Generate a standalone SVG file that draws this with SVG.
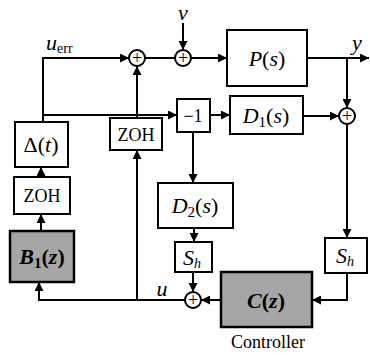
<svg xmlns="http://www.w3.org/2000/svg" width="370" height="355" viewBox="0 0 370 355">
<style>
.box{fill:#fff;stroke:#000;stroke-width:2}
.shade{fill:#a6a6a6;stroke:#000;stroke-width:2.5}
.sum{fill:#fff;stroke:#000;stroke-width:2}
.ln{fill:none;stroke:#000;stroke-width:2}
.m{font-family:'Liberation Serif','DejaVu Serif','Times New Roman',serif;font-style:italic;font-size:22px;fill:#000}
.r{font-family:'Liberation Serif','DejaVu Serif','Times New Roman',serif;font-size:18px;fill:#000}
.up{font-style:normal}
</style>
<defs>
<marker id="a" viewBox="0 0 10 10" refX="10" refY="5" markerWidth="5" markerHeight="4.5" orient="auto" markerUnits="strokeWidth">
<path d="M0,0 L10,5 L0,10 z" fill="#000"/>
</marker>
</defs>
<g id="connectors">
<path class="ln" d="M183,23 V50" marker-end="url(#a)"/>
<path class="ln" d="M43,122 V58 H129" marker-end="url(#a)"/>
<path class="ln" d="M145,58 H175"/>
<path class="ln" d="M191,58 H227" marker-end="url(#a)"/>
<path class="ln" d="M307,58 H369" marker-end="url(#a)"/>
<path class="ln" d="M347,58 V108" marker-end="url(#a)"/>
<path class="ln" d="M43,115 H177" marker-end="url(#a)"/>
<path class="ln" d="M210,115 H230" marker-end="url(#a)"/>
<path class="ln" d="M303,116 H339" marker-end="url(#a)"/>
<path class="ln" d="M347,124 V238" marker-end="url(#a)"/>
<path class="ln" d="M347,273 V300 H312" marker-end="url(#a)"/>
<path class="ln" d="M221,300 H201" marker-end="url(#a)"/>
<path class="ln" d="M193,132 V183" marker-end="url(#a)"/>
<path class="ln" d="M194,228 V242" marker-end="url(#a)"/>
<path class="ln" d="M193,272 V292" marker-end="url(#a)"/>
<path class="ln" d="M185,300 H39 V282" marker-end="url(#a)"/>
<path class="ln" d="M137,300 V150" marker-end="url(#a)"/>
<path class="ln" d="M137,118 V66" marker-end="url(#a)"/>
<path class="ln" d="M41,231 V214" marker-end="url(#a)"/>
<path class="ln" d="M41,177 V167" marker-end="url(#a)"/>
</g>
<g id="sum1"><circle class="sum" cx="137" cy="58" r="8"/><text class="r" x="137" y="64" text-anchor="middle">+</text></g>
<g id="sum2"><circle class="sum" cx="183" cy="58" r="8"/><text class="r" x="183" y="64" text-anchor="middle">+</text></g>
<g id="sum3"><circle class="sum" cx="347" cy="116" r="8"/><text class="r" x="347" y="122" text-anchor="middle">+</text></g>
<g id="sum4"><circle class="sum" cx="193" cy="300" r="8"/><text class="r" x="193" y="306" text-anchor="middle">+</text></g>
<g id="P"><rect class="box" x="227" y="30" width="80" height="56"/><text class="m" x="267" y="66" text-anchor="middle" font-size="25">P<tspan class="up">(</tspan>s<tspan class="up">)</tspan></text></g>
<g id="neg1"><rect class="box" x="177" y="99" width="33" height="33"/><text class="r" x="193" y="122" text-anchor="middle" font-size="19">−1</text></g>
<g id="D1"><rect class="box" x="230" y="96" width="73" height="38"/><text class="m" x="266" y="123" text-anchor="middle" font-size="23">D<tspan font-style="normal" font-size="15" dy="4">1</tspan><tspan class="up" dy="-4">(</tspan>s<tspan class="up">)</tspan></text></g>
<g id="Delta"><rect class="box" x="15" y="122" width="53" height="45"/><text class="m" x="41" y="152" text-anchor="middle" font-size="23"><tspan class="up">Δ(</tspan>t<tspan class="up">)</tspan></text></g>
<g id="ZOH2"><rect class="box" x="110" y="118" width="52" height="32"/><text class="r" x="136" y="141" text-anchor="middle">ZOH</text></g>
<g id="ZOH1"><rect class="box" x="14" y="177" width="56" height="37"/><text class="r" x="42" y="202" text-anchor="middle">ZOH</text></g>
<g id="B1"><rect class="shade" x="10" y="231" width="64" height="51"/><text class="m" x="42" y="264" text-anchor="middle" font-size="23" font-weight="bold">B<tspan font-style="normal" font-size="15" dy="4">1</tspan><tspan class="up" dy="-4">(</tspan>z<tspan class="up">)</tspan></text></g>
<g id="D2"><rect class="box" x="158" y="183" width="75" height="45"/><text class="m" x="195" y="213" text-anchor="middle" font-size="23">D<tspan font-style="normal" font-size="15" dy="4">2</tspan><tspan class="up" dy="-4">(</tspan>s<tspan class="up">)</tspan></text></g>
<g id="Sh1"><rect class="box" x="175" y="242" width="37" height="30"/><text class="m" x="192" y="265" text-anchor="middle">S<tspan font-size="14" dy="3">h</tspan></text></g>
<g id="Sh2"><rect class="box" x="325" y="238" width="42" height="35"/><text class="m" x="345" y="263" text-anchor="middle">S<tspan font-size="14" dy="3">h</tspan></text></g>
<g id="C"><rect class="shade" x="221" y="272" width="91" height="55"/><text class="m" x="266" y="308" text-anchor="middle" font-size="25" font-weight="bold">C<tspan class="up">(</tspan>z<tspan class="up">)</tspan></text><text class="r" x="268" y="348" text-anchor="middle" font-size="17">Controller</text></g>
<g id="labels">
<text class="m" x="183" y="20" text-anchor="middle" font-size="18">v</text>
<text class="m" x="46" y="50" font-size="21">u<tspan font-style="normal" font-size="14" dy="3">err</tspan></text>
<text class="m" x="357" y="50" text-anchor="middle" font-size="20">y</text>
<text class="m" x="162" y="296" text-anchor="middle" font-size="21">u</text>
</g>
</svg>
